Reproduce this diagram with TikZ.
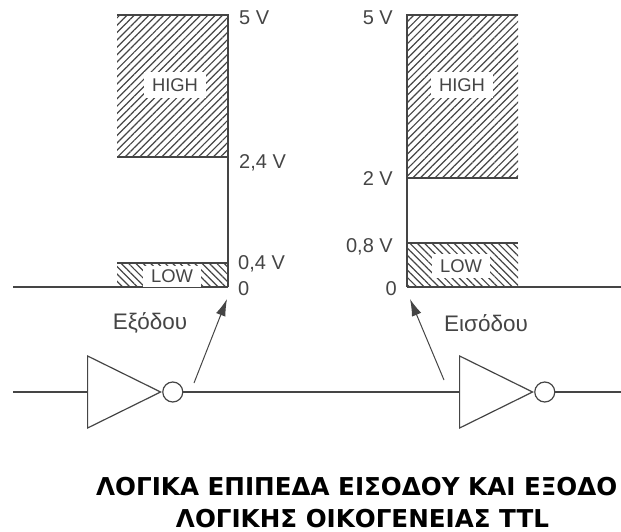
\documentclass[tikz,border=0pt]{standalone}
\usepackage{fontspec}
\setmainfont{Liberation Sans}
\newfontfamily\titlefont{DejaVu Sans}
\usepackage{xcolor}
\usetikzlibrary{arrows.meta, patterns.meta, shapes.geometric}
\definecolor{inkgray}{gray}{0.27}
\tikzset{
  wire/.style={draw=inkgray, line width=1.2pt},
  highbox/.style={pattern={Lines[angle=45, distance=5.2pt, line width=1.2pt]}, pattern color=inkgray},
  lowbox/.style={pattern={Lines[angle=-45, distance=5.2pt, line width=1.2pt]}, pattern color=inkgray},
  level/.style={text=inkgray, font=\fontsize{20}{22}\selectfont, inner sep=0pt},
  caption/.style={text=inkgray, font=\fontsize{22.5}{24}\selectfont, inner sep=0pt},
  tag/.style={fill=white, text=inkgray, font=\fontsize{18.4}{20}\selectfont, inner xsep=8pt, inner ysep=0pt},
  notgate/.style={draw=inkgray, line width=1.2pt, isosceles triangle, isosceles triangle stretches, shape border rotate=0, minimum width=72pt, minimum height=73pt, inner sep=0pt, anchor=lower side},
  bubble/.style={draw=inkgray, line width=1.2pt, circle, minimum size=20pt, inner sep=0pt, anchor=west},
  pointer/.style={draw=inkgray, line width=1pt, -{Latex[length=17pt, width=10pt]}},
  heading/.style={font=\titlefont\bfseries\fontsize{24.6}{28}\selectfont, inner sep=0pt}
}
\begin{document}
\begin{tikzpicture}[x=1pt, y=-1pt]
  \useasboundingbox (0,0) rectangle (621,532);
  % Output levels
  \fill[highbox] (117,15) rectangle (228,157);
  \fill[lowbox] (117,263) rectangle (228,287);
  \draw[wire] (117,15) -- (228,15) -- (228,287);
  \draw[wire] (117,157) -- (228,157);
  \draw[wire] (117,263) -- (228,263);
  \draw[wire] (13,287) -- (228,287);
  \node[tag, minimum height=26pt] (HIGHout) at (175,85) {HIGH};
  \node[tag, minimum height=21pt] (LOWout) at (172,276) {LOW};
  \node[level, anchor=west] (Vout5) at (239,18) {5 V};
  \node[level, anchor=base west] (Vout24) at (239,168) {2,4 V};
  \node[level, anchor=base west] (Vout04) at (238,269) {0,4 V};
  \node[level, anchor=west] (Vout0) at (238,289) {0};
  % Input levels
  \fill[highbox] (407,15) rectangle (518,178);
  \fill[lowbox] (407,243) rectangle (518,287);
  \draw[wire] (518,15) -- (407,15) -- (407,287);
  \draw[wire] (407,178) -- (518,178);
  \draw[wire] (407,243) -- (518,243);
  \draw[wire] (407,287) -- (621,287);
  \node[tag, minimum height=26pt] (HIGHin) at (462,85) {HIGH};
  \node[tag, minimum height=24pt] (LOWin) at (461,266) {LOW};
  \node[level, anchor=east] (Vin5) at (393,18) {5 V};
  \node[level, anchor=east] (Vin2) at (393,179) {2 V};
  \node[level, anchor=base east] (Vin08) at (393,252) {0,8 V};
  \node[level, anchor=east] (Vin0) at (397,289) {0};
  % Gates
  \foreach \i/\x in {0/87, 1/459} {
    \node[notgate] (NOT\i) at (\x,392) {};
    \node[bubble] (INV\i) at (NOT\i.apex) {};
  }
  \coordinate (inL) at (13,392);
  \coordinate (outR) at (621,392);
  \draw[wire] (inL) -- (NOT0.lower side);
  \draw[wire] (INV0) -- (NOT1.lower side);
  \draw[wire] (INV1) -- (outR);
  % Arrows
  \node[caption] (OUTlabel) at (150,323) {Εξόδου};
  \node[caption] (INlabel) at (486,323) {Εισόδου};
  \coordinate (outA) at (194,383);
  \coordinate (outB) at (227,299);
  \coordinate (inA) at (444,380);
  \coordinate (inB) at (410,299);
  \draw[pointer] (outA) -- (outB);
  \draw[pointer] (inA) -- (inB);
  % Title
  \node[heading, anchor=base west] (title1) at (96,495) {ΛΟΓΙΚΑ ΕΠΙΠΕΔΑ ΕΙΣΟΔΟΥ ΚΑΙ ΕΞΟΔΟ};
  \node[heading, anchor=base] (title2) at (362.5,527) {ΛΟΓΙΚΗΣ ΟΙΚΟΓΕΝΕΙΑΣ TTL};
\end{tikzpicture}
\end{document}
